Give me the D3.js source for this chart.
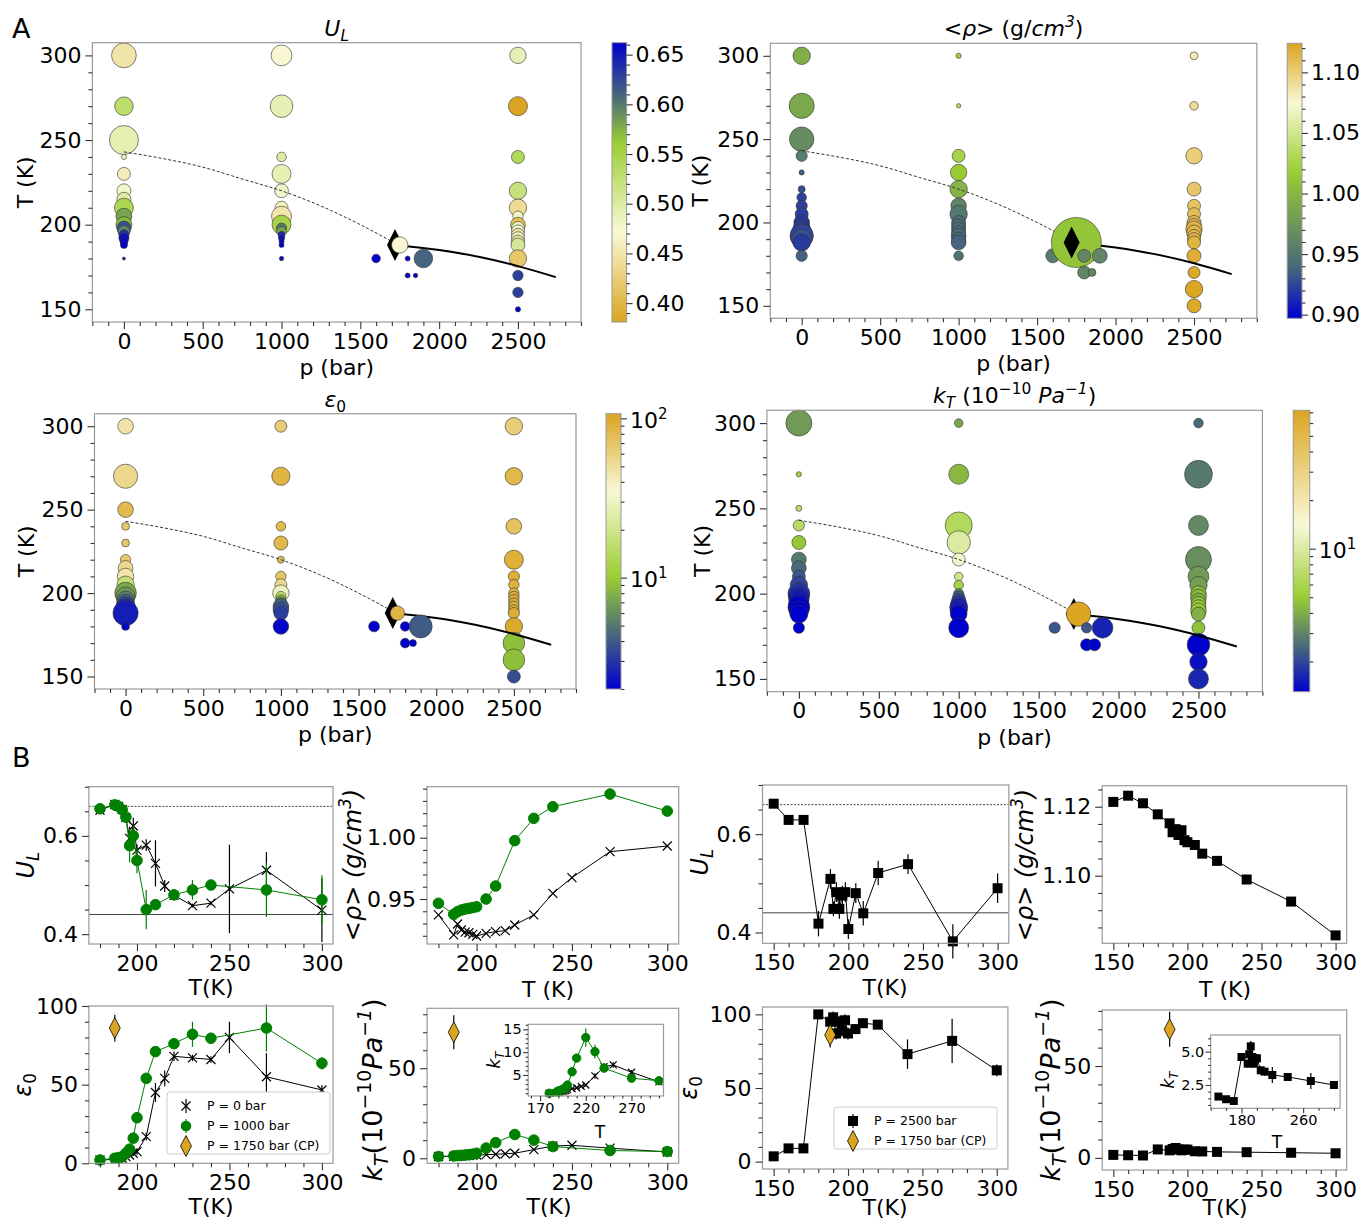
<!DOCTYPE html>
<html>
<head>
<meta charset="utf-8">
<script src="https://cdn.jsdelivr.net/npm/d3@7"></script>
<style>
body { margin: 0; background: #fff; }
text { font-family: "DejaVu Sans", sans-serif; }
</style>
</head>
<body>
<svg id="fig" width="1361" height="1221"></svg>
<script>
// temperatures of each isobar
const T0    = [180,188,190,192,194,196,198,200,205,210,215,220,230,240,250,270,300]
const T1000 = [180,188,190,192,194,196,198,200,205,210,220,230,240,270,300]
const T2500 = [150,160,170,180,188,190,192,194,196,198,200,205,210,220,240,270,300]

// U_L
const UL0      = [0.652,0.664,0.66,0.654,0.637,0.595,0.62,0.571,0.581,0.544,0.498,0.479,0.458,0.463,0.492,0.530,0.449]
const UL0err   = [0.004,0.005,0.005,0.006,0.01,0.024,0.017,0.012,0.012,0.047,0.012,0.01,0.004,0.004,0.09,0.037,0.065]
const UL1000   = [0.655,0.663,0.66,0.653,0.638,0.58,0.60,0.55,0.45,0.46,0.48,0.49,0.50,0.49,0.47]
const UL1000err= [0.005,0.005,0.006,0.006,0.01,0.034,0.02,0.026,0.04,0.01,0.01,0.02,0.005,0.055,0.05]
const UL2500   = [0.662,0.629,0.629,0.418,0.509,0.448,0.482,0.448,0.475,0.482,0.407,0.48,0.439,0.521,0.539,0.382,0.49]
const UL2500err= [0.005,0.004,0.004,0.026,0.02,0.015,0.02,0.02,0.02,0.02,0.02,0.02,0.025,0.025,0.02,0.035,0.03]
const UL_REF   = [0.66, 0.44]   // dotted, solid reference levels

// density
const RHO0    = [0.937,0.9207,0.9296,0.9247,0.923,0.9225,0.9212,0.9198,0.922,0.9234,0.9242,0.9288,0.937,0.9546,0.9674,0.9886,0.9932]
const RHO1000 = [0.9465,0.9375,0.9397,0.941,0.9418,0.9424,0.943,0.9437,0.95,0.9606,0.9976,1.0158,1.0253,1.0356,1.0217]
const RHO2500 = [1.1214,1.1232,1.121,1.1178,1.1152,1.1126,1.1135,1.1118,1.1132,1.1103,1.1097,1.1089,1.1064,1.1043,1.0989,1.0925,1.0827]

// dielectric constant
const EPS0       = [2.1,2.5,2.8,3.2,4.2,5.3,6.4,7.4,17,45,54,68,67,66,80,55,46.6]
const EPS0err    = [0.5,0.5,0.5,0.5,1,1,1.5,2,2.5,6,5,3,2,2,10,15,3]
const EPS1000    = [2.1,3.2,3.6,4.2,6.4,9,16,29,54,71,76,82,79.5,86,63.6]
const EPS1000err = [0.5,0.5,0.5,0.8,1,1.5,2,2.5,3,3,3,8,2.5,15,4]
const EPS2500    = [3.6,9,9,100,95,98,87,95,89,96,87,90,94,93,73,82,62]
const EPS2500err = [1,1,1,2,3,4,4,4,4,4,4,3,3,2,10,15,4]

// compressibility
const KT0       = [1.0,1.1,1.2,1.3,1.4,1.5,1.6,1.8,2.0,2.2,2.5,2.8,4.8,6.8,7.2,5.6,3.5]
const KT0err    = [0.1,0.1,0.1,0.1,0.1,0.1,0.1,0.15,0.2,0.2,0.2,0.3,0.6,0.8,0.6,0.5,0.4]
const KT1000    = [1.0,1.3,1.5,1.6,1.8,2.0,2.3,2.8,5.7,8.7,13.2,10.1,6.5,4.3,3.75]
const KT1000err = [0.1,0.1,0.1,0.1,0.15,0.2,0.2,0.3,0.5,0.8,2.0,1.5,0.8,0.5,0.4]
const KT2500    = [1.63,1.43,1.3,4.6,4.1,4.8,5.4,4.6,4.1,4.5,4.5,3.6,3.5,3.25,3.1,2.8,2.5]
const KT2500err = [0.1,0.1,0.1,0.2,0.3,0.3,0.4,0.5,0.3,0.3,0.3,0.3,0.3,0.6,0.3,0.6,0.2]

// critical point (1750 bar)
const CP_P = 1720, CP_T = 188
const CP_EPS = [86, 8.5]   // value, error
const CP_KT  = [70, 9.5]

// extra state points near the critical point
const PX = [1600,1750,1800,1800,1850,1900]
const TX = [180,188,180,170,170,180]
const UL_X  = [0.66,0.47,0.66,0.66,0.66,0.61]
const RHO_X = [0.955,1.012,0.962,0.962,0.962,0.962]
const EPS_X = [2,86,2,2,2,4]
const KT_X  = [2.2,70,2.2,1.3,1.3,1.6]

// relative uncertainties shown as bubble size in panel A
const SZ_UL_0    = [0.15,0.35,0.4,0.5,0.5,0.6,0.7,0.8,0.8,0.95,0.7,0.7,0.65,0.25,1.45,0.93,1.24]
const SZ_UL_1000 = [0.22,0.25,0.25,0.3,0.35,0.48,0.5,0.95,1.0,0.65,0.69,0.95,0.48,1.13,1.04]
const SZ_UL_2500 = [0.26,0.52,0.52,0.87,0.7,0.65,0.65,0.65,0.65,0.65,0.74,0.52,0.87,0.87,0.65,0.95,0.82]
const SZ_UL_X    = [0.43,0.82,0.25,0.25,0.22,0.93]
const SZ_RHO_0    = [0.56,0.87,1.0,1.17,1.0,0.87,0.78,0.78,0.65,0.56,0.48,0.35,0.26,0.56,1.22,1.26,0.87]
const SZ_RHO_1000 = [0.48,0.74,0.7,0.74,0.7,0.7,0.7,0.7,0.87,0.78,0.87,0.82,0.65,0.22,0.26]
const SZ_RHO_2500 = [0.7,0.87,0.6,0.7,0.65,0.65,0.65,0.74,0.82,0.74,0.7,0.65,0.65,0.7,0.82,0.43,0.39]
const SZ_RHO_X    = [0.7,2.5,0.65,0.65,0.39,0.74]
const SZ_EPS_0    = [0.39,1.26,1.04,0.95,0.87,0.87,0.95,1.08,0.87,0.82,0.74,0.52,0.39,0.39,0.78,1.21,0.78]
const SZ_EPS_1000 = [0.78,0.7,0.78,0.78,0.6,0.5,0.5,0.82,0.6,0.52,0.35,0.7,0.48,0.91,0.6]
const SZ_EPS_2500 = [0.65,1.08,1.08,0.87,0.56,0.52,0.52,0.52,0.52,0.52,0.52,0.52,0.56,0.95,0.78,0.87,0.87]
const SZ_EPS_X    = [0.54,0.72,0.48,0.48,0.35,1.15]
const SZ_KT_0    = [0.56,0.9,0.95,1.09,1.0,1.0,1.04,1.09,0.87,0.65,0.74,0.74,0.7,0.56,0.3,0.26,1.3]
const SZ_KT_1000 = [1.0,0.83,0.85,0.9,0.8,0.7,0.6,0.5,0.48,0.43,0.65,1.17,1.35,1.0,0.43]
const SZ_KT_2500 = [1.0,0.87,1.13,0.65,0.7,0.78,0.74,0.74,0.74,0.78,0.78,0.87,1.04,1.3,1.0,1.39,0.48]
const SZ_KT_X    = [0.56,1.22,0.52,0.6,0.6,1.04]

// Widom line (dashed) and coexistence line (solid)
const WIDOM_P = [0,250,500,750,1000,1250,1500,1720]
const WIDOM_T = [243,239,234,227,220,211,200,189]
const COEX_P  = [1720,2000,2250,2500,2740]
const COEX_T  = [188,185,181,175.5,169]

const svg = d3.select("#fig")
const defs = svg.append("defs")
const CMAP = ["#0000cd", "#4a6a7a", "#9acd32", "#f9f9d6", "#daa520"]
const FRAME = "#999"
const TICK = "#333"
let gid = 0

const colorUL  = d3.scaleLinear().domain([0.662,0.607,0.562,0.472,0.381]).range(CMAP).clamp(true)
const colorRho = d3.scaleLinear().domain([0.897,0.94,1.018,1.074,1.124]).range(CMAP).clamp(true)
const colorEps = d3.scaleLog().domain([2,4.5,10,35,107]).range(CMAP).clamp(true)
const colorKT  = d3.scaleLog().domain([1.3,2.5,5,14,72]).range(CMAP).clamp(true)

function rich(sel, parts, fs){
    let cur = 0
    parts.forEach(([s, kind]) => {
        const t = sel.append("tspan").text(s)
        let shift = 0, size = fs
        if (kind.includes("sub")) { shift = 0.22*fs; size = 0.7*fs }
        if (kind.includes("sup")) { shift = -0.42*fs; size = 0.7*fs }
        if (kind.includes("i")) t.attr("font-style", "italic")
        t.attr("dy", shift - cur).attr("font-size", size)
        cur = shift
    })
    return sel
}

function label(x, y, parts, fs, rot){
    const t = svg.append("text").attr("text-anchor", "middle").attr("font-size", fs)
        .attr("transform", rot ? `translate(${x},${y}) rotate(-90)` : `translate(${x},${y})`)
    return rich(t, parts, fs)
}

function minors(dom, step, majors){
    const lo = Math.ceil(d3.min(dom)/step - 1e-9), hi = Math.floor(d3.max(dom)/step + 1e-9)
    return d3.range(lo, hi+1).map(k => +(k*step).toFixed(6))
        .filter(v => !majors.some(m => Math.abs(m - v) < step*1e-3))
}

function styleAxis(a, fs){
    a.select(".domain").remove()
    a.selectAll("line").attr("stroke", TICK).attr("stroke-width", 1.1)
    a.selectAll("text").attr("font-size", fs).attr("fill", "#000").attr("font-family", "DejaVu Sans")
}

function drawAxes(g, x, y, o){
    const b = y.range()[0], l = x.range()[0]
    const fs = o.fs || 22, big = o.big || 7, small = o.small || 4
    styleAxis(g.append("g").attr("transform", `translate(0,${b})`)
        .call(d3.axisBottom(x).tickValues(o.xt).tickSize(big).tickPadding(o.pad || 4).tickFormat(o.xf || d3.format("d"))), fs)
    styleAxis(g.append("g").attr("transform", `translate(0,${b})`)
        .call(d3.axisBottom(x).tickValues(minors(x.domain(), o.xm, o.xt)).tickSize(small).tickFormat("")), fs)
    styleAxis(g.append("g").attr("transform", `translate(${l},0)`)
        .call(d3.axisLeft(y).tickValues(o.yt).tickSize(big).tickPadding(o.pad || 4).tickFormat(o.yf || d3.format("d"))), fs)
    styleAxis(g.append("g").attr("transform", `translate(${l},0)`)
        .call(d3.axisLeft(y).tickValues(minors(y.domain(), o.ym, o.yt)).tickSize(small).tickFormat("")), fs)
}

function frame(g, box){
    g.append("rect").attr("x", box[0]).attr("y", box[2])
        .attr("width", box[1]-box[0]).attr("height", box[3]-box[2])
        .attr("fill", "none").attr("stroke", FRAME).attr("stroke-width", 1.2)
}

function colorbar(cb, color, dom, log, ticks, minorStep, fmt){
    const id = "grad" + (gid++)
    const s = (log ? d3.scaleLog() : d3.scaleLinear()).domain(dom).range([cb[3], cb[2]])
    const grad = defs.append("linearGradient").attr("id", id)
        .attr("x1", 0).attr("y1", 1).attr("x2", 0).attr("y2", 0)
    d3.range(0, 1.0001, 1/80).forEach(t => {
        grad.append("stop").attr("offset", t).attr("stop-color", color(s.invert(cb[3] - t*(cb[3]-cb[2]))))
    })
    svg.append("rect").attr("x", cb[0]).attr("y", cb[2]).attr("width", cb[1]-cb[0]).attr("height", cb[3]-cb[2])
        .attr("fill", `url(#${id})`).attr("stroke", FRAME).attr("stroke-width", 1)
    let mins
    if (log) {
        mins = []
        for (let e = -1; e < 3; e++) for (let m = 2; m < 10; m++) {
            const v = m*Math.pow(10, e)
            if (v >= dom[0] && v <= dom[1]) mins.push(v)
        }
    } else mins = minors(dom, minorStep, ticks)
    const ax = svg.append("g").attr("transform", `translate(${cb[1]},0)`)
        .call(d3.axisRight(s).tickValues(ticks).tickSize(6).tickPadding(3).tickFormat(log ? () => "" : d3.format(fmt)))
    styleAxis(ax, 22)
    if (log) ax.selectAll(".tick text").each(function(d){
        const t = d3.select(this).attr("dy", "0.4em")
        t.append("tspan").text("10")
        t.append("tspan").attr("dy", -9).attr("font-size", 15).text(Math.round(Math.log10(d)))
    })
    styleAxis(svg.append("g").attr("transform", `translate(${cb[1]},0)`)
        .call(d3.axisRight(s).tickValues(mins).tickSize(3.5).tickFormat("")), 22)
}

function panelA(cfg){
    const box = cfg.box
    const g = svg.append("g")
    const x = d3.scaleLinear().domain([-200, 2900]).range([box[0], box[1]])
    const y = d3.scaleLinear().domain([142.5, 307.5]).range([box[3], box[2]])
    const r = d3.scaleLinear().domain([0, 1]).range([0, 10])

    const cols = cfg.cols.map(c => c.T.map((t, i) => ({p: c.p, T: t, v: c.v[i], s: c.s[i]}))
        .sort((a, b) => b.T - a.T)).flat()
    const extra = PX.map((p, i) => ({p, T: TX[i], v: cfg.xv[i], s: cfg.xs[i]}))

    const bubbles = (data) => g.append("g").selectAll("circle").data(data).join("circle")
        .attr("cx", d => x(d.p)).attr("cy", d => y(d.T)).attr("r", d => r(d.s))
        .attr("fill", d => cfg.color(d.v)).attr("stroke", "#333").attr("stroke-width", 0.6)

    bubbles(cols)
    const line = d3.line().x(d => x(d[0])).y(d => y(d[1])).curve(d3.curveMonotoneX)
    g.append("path").attr("d", line(WIDOM_P.map((p, i) => [p, WIDOM_T[i]])))
        .attr("fill", "none").attr("stroke", "#333").attr("stroke-width", 1).attr("stroke-dasharray", "3,2")
    g.append("path").attr("d", line(COEX_P.map((p, i) => [p, COEX_T[i]])))
        .attr("fill", "none").attr("stroke", "#000").attr("stroke-width", 2)
    const diamond = () => g.append("path").attr("d", "M0,-16L8,0L0,16L-8,0Z")
        .attr("transform", `translate(${x(CP_P)},${y(CP_T)})`).attr("fill", "#000")
    if (cfg.diamondTop) { bubbles(extra); diamond() } else { diamond(); bubbles(extra) }

    frame(g, box)
    drawAxes(g, x, y, {xt: [0,500,1000,1500,2000,2500], xm: 100, yt: [150,200,250,300], ym: 10, fs: 22})
    label((box[0]+box[1])/2, box[2]-7, cfg.title, 22)
    label((box[0]+box[1])/2, box[3]+53, [["p (bar)", ""]], 22)
    label(cfg.ylx, (box[2]+box[3])/2, [["T (K)", ""]], 22, true)
    colorbar(cfg.cb, cfg.color, cfg.cbDom, cfg.log, cfg.cbTicks, 0.01, ".2f")
}

panelA({box: [92.4, 581, 42.7, 322], cb: [612, 626.6, 42.7, 322], ylx: 33,
    title: [["U", "i"], ["L", "isub"]], color: colorUL, cbDom: [0.381, 0.662], log: false,
    cbTicks: [0.40,0.45,0.50,0.55,0.60,0.65],
    cols: [{p: 0, T: T0, v: UL0, s: SZ_UL_0}, {p: 1000, T: T1000, v: UL1000, s: SZ_UL_1000}, {p: 2500, T: T2500, v: UL2500, s: SZ_UL_2500}],
    xv: UL_X, xs: SZ_UL_X})

panelA({box: [770.3, 1256.8, 43.3, 318.3], cb: [1287.2, 1302, 43.3, 318.3], ylx: 708, diamondTop: true,
    title: [["<", ""], ["ρ", "i"], ["> (g/", ""], ["cm", "i"], ["3", "isup"], [")", ""]], color: colorRho,
    cbDom: [0.897, 1.124], log: false, cbTicks: [0.90,0.95,1.00,1.05,1.10],
    cols: [{p: 0, T: T0, v: RHO0, s: SZ_RHO_0}, {p: 1000, T: T1000, v: RHO1000, s: SZ_RHO_1000}, {p: 2500, T: T2500, v: RHO2500, s: SZ_RHO_2500}],
    xv: RHO_X, xs: SZ_RHO_X})

panelA({box: [94.5, 576, 413.7, 689], cb: [606, 621, 413.7, 689], ylx: 34,
    title: [["ε", "i"], ["0", "sub"]], color: colorEps, cbDom: [2, 107], log: true, cbTicks: [10, 100],
    cols: [{p: 0, T: T0, v: EPS0, s: SZ_EPS_0}, {p: 1000, T: T1000, v: EPS1000, s: SZ_EPS_1000}, {p: 2500, T: T2500, v: EPS2500, s: SZ_EPS_2500}],
    xv: EPS_X, xs: SZ_EPS_X})

panelA({box: [766.9, 1262.4, 410.3, 691.7], cb: [1293.2, 1309.8, 410.3, 691.7], ylx: 710,
    title: [["k", "i"], ["T", "isub"], [" (10", ""], ["−10", "sup"], [" Pa", "i"], ["−1", "isup"], [")", ""]],
    color: colorKT, cbDom: [1.3, 72], log: true, cbTicks: [10],
    cols: [{p: 0, T: T0, v: KT0, s: SZ_KT_0}, {p: 1000, T: T1000, v: KT1000, s: SZ_KT_1000}, {p: 2500, T: T2500, v: KT2500, s: SZ_KT_2500}],
    xv: KT_X, xs: SZ_KT_X})

// ---------- panel B ----------
function bPanel(o){
    const g = svg.append("g")
    const x = d3.scaleLinear().domain(o.xd).range([o.box[0], o.box[1]])
    const y = d3.scaleLinear().domain(o.yd).range([o.box[3], o.box[2]])
    if (o.inset) g.append("rect").attr("x", o.box[0]).attr("y", o.box[2])
        .attr("width", o.box[1]-o.box[0]).attr("height", o.box[3]-o.box[2]).attr("fill", "#fff")
    return {g, x, y, o}
}
function finish(P){
    const {g, x, y, o} = P
    frame(g, o.box)
    drawAxes(g, x, y, o)
}

const MARK = {
    x: s => `M${-s},${-s}L${s},${s}M${-s},${s}L${s},${-s}`,
    sq: s => `M${-s},${-s}H${s}V${s}H${-s}Z`,
    dia: s => `M0,${-s*1.9}L${s},0L0,${s*1.9}L${-s},0Z`
}

function series(P, T, V, E, kind, color, size){
    const {g, x, y} = P
    g.append("path").attr("d", d3.line().x((d, i) => x(T[i])).y(d => y(d))(V))
        .attr("fill", "none").attr("stroke", color).attr("stroke-width", 1)
    if (E) g.append("g").selectAll("line").data(V).join("line")
        .attr("x1", (d, i) => x(T[i])).attr("x2", (d, i) => x(T[i]))
        .attr("y1", (d, i) => y(d - E[i])).attr("y2", (d, i) => y(d + E[i]))
        .attr("stroke", color).attr("stroke-width", 1.2)
    const m = g.append("g").selectAll("path").data(V).join("path")
        .attr("transform", (d, i) => `translate(${x(T[i])},${y(d)})`)
    if (kind === "x") m.attr("d", MARK.x(size)).attr("stroke", color).attr("stroke-width", 1.2).attr("fill", "none")
    else if (kind === "o") m.attr("d", d3.symbol(d3.symbolCircle, Math.PI*size*size)()).attr("fill", color).attr("stroke", color)
    else m.attr("d", MARK.sq(size)).attr("fill", color)
}

function cp(P, v, err){
    const {g, x, y} = P
    g.append("line").attr("x1", x(CP_T)).attr("x2", x(CP_T)).attr("y1", y(v-err)).attr("y2", y(v+err))
        .attr("stroke", "#000").attr("stroke-width", 1.2)
    g.append("path").attr("d", MARK.dia(5.5)).attr("transform", `translate(${x(CP_T)},${y(v)})`)
        .attr("fill", "goldenrod").attr("stroke", "#000").attr("stroke-width", 0.8)
}

function refLines(P){
    const {g, x, y} = P
    g.append("line").attr("x1", x.range()[0]).attr("x2", x.range()[1]).attr("y1", y(UL_REF[0])).attr("y2", y(UL_REF[0]))
        .attr("stroke", "#444").attr("stroke-width", 1).attr("stroke-dasharray", "2,1.5")
    g.append("line").attr("x1", x.range()[0]).attr("x2", x.range()[1]).attr("y1", y(UL_REF[1])).attr("y2", y(UL_REF[1]))
        .attr("stroke", "#444").attr("stroke-width", 1)
}

const X180 = {xd: [174, 306], xt: [200, 250, 300], xm: 10}
const X150 = {xd: [142.5, 307.5], xt: [150, 200, 250, 300], xm: 10}

// B1
let P = bPanel({...X180, box: [88.9, 333, 786.7, 944], yd: [0.38, 0.70], yt: [0.4, 0.6], ym: 0.05, yf: d3.format(".1f")})
refLines(P)
series(P, T0, UL0, UL0err, "x", "#000", 4.5)
series(P, T1000, UL1000, UL1000err, "o", "green", 5.3)
finish(P)
label(34, 865, [["U", "i"], ["L", "isub"]], 24, true)
label(211, 995, [["T(K)", ""]], 22)

// B2
P = bPanel({...X180, box: [427, 678.7, 786.7, 944], yd: [0.9133, 1.0416], yt: [0.95, 1.00], ym: 0.01, yf: d3.format(".2f")})
series(P, T0, RHO0, null, "x", "#000", 4.5)
series(P, T1000, RHO1000, null, "o", "green", 5.3)
finish(P)
label(361, 865, [["<", "i"], ["ρ", "i"], ["> (", "i"], ["g/cm", "i"], ["3", "isup"], [")", "i"]], 24, true)
label(548, 997, [["T (K)", ""]], 22)

// B3
P = bPanel({...X150, box: [762.5, 1008.8, 785, 943.3], yd: [0.378, 0.70], yt: [0.4, 0.6], ym: 0.05, yf: d3.format(".1f")})
refLines(P)
series(P, T2500, UL2500, UL2500err, "sq", "#000", 5)
finish(P)
label(708, 862, [["U", "i"], ["L", "isub"]], 24, true)
label(885, 995, [["T(K)", ""]], 22)

// B4
P = bPanel({...X150, box: [1102.2, 1346.7, 785.7, 943.3], yd: [1.0804, 1.1261], yt: [1.10, 1.12], ym: 0.005, yf: d3.format(".2f")})
series(P, T2500, RHO2500, null, "sq", "#000", 5)
finish(P)
label(1033, 865, [["<", "i"], ["ρ", "i"], ["> (", "i"], ["g/cm", "i"], ["3", "isup"], [")", "i"]], 24, true)
label(1225, 997, [["T (K)", ""]], 22)

// B5
P = bPanel({...X180, box: [88.9, 333, 1006, 1163.3], yd: [0, 100], yt: [0, 50, 100], ym: 10})
series(P, T0, EPS0, EPS0err, "x", "#000", 4.5)
series(P, T1000, EPS1000, EPS1000err, "o", "green", 5.3)
cp(P, ...CP_EPS)
finish(P)
label(31, 1085, [["ε", "i"], ["0", "sub"]], 24, true)
label(211, 1214, [["T(K)", ""]], 22)

function legend(box, rows){
    const g = svg.append("g")
    g.append("rect").attr("x", box[0]).attr("y", box[1]).attr("width", box[2]).attr("height", box[3])
        .attr("rx", 3).attr("fill", "#fff").attr("stroke", "#ccc")
    rows.forEach((r, i) => {
        const cy = box[1] + 14 + i*20, mx = box[0] + 19
        g.append("line").attr("x1", mx).attr("x2", mx).attr("y1", cy-7).attr("y2", cy+7).attr("stroke", r.c).attr("stroke-width", 1.2)
        const m = g.append("path").attr("transform", `translate(${mx},${cy})`)
        if (r.k === "x") m.attr("d", MARK.x(4.5)).attr("stroke", r.c).attr("stroke-width", 1.2)
        else if (r.k === "o") m.attr("d", d3.symbol(d3.symbolCircle, Math.PI*28)()).attr("fill", r.c)
        else if (r.k === "sq") m.attr("d", MARK.sq(5)).attr("fill", r.c)
        else m.attr("d", MARK.dia(5.5)).attr("fill", "goldenrod").attr("stroke", "#000").attr("stroke-width", 0.8)
        g.append("text").attr("x", box[0]+40).attr("y", cy).attr("dy", "0.35em").attr("font-size", 12.5).text(r.t)
    })
}
legend([167, 1092, 163, 62], [{k: "x", c: "#000", t: "P = 0 bar"}, {k: "o", c: "green", t: "P = 1000 bar"}, {k: "d", c: "#000", t: "P = 1750 bar (CP)"}])

// B6
P = bPanel({...X180, box: [427.1, 678.7, 1008.3, 1163.3], yd: [-2.8, 83.3], yt: [0, 50], ym: 10})
series(P, T0, KT0, KT0err, "x", "#000", 4.5)
series(P, T1000, KT1000, KT1000err, "o", "green", 5.3)
cp(P, ...CP_KT)
finish(P)
label(382, 1090, [["k", "i"], ["T", "isub"], ["(10", ""], ["−10", "sup"], ["Pa", "i"], ["−1", "isup"], [")", ""]], 27, true)
label(549, 1214, [["T(K)", ""]], 22)

// B6 inset
P = bPanel({inset: true, box: [528.2, 663.5, 1024.3, 1096], xd: [157, 305], xt: [170, 220, 270], xm: 10,
    yd: [0.4, 16.1], yt: [5, 10, 15], ym: 1, fs: 14.5, big: 5, small: 2.5, pad: 1.5})
series(P, T0, KT0, KT0err, "x", "#000", 3.5)
series(P, T1000, KT1000, KT1000err, "o", "green", 4.2)
finish(P)
label(500, 1060, [["k", "i"], ["T", "isub"]], 17, true)
label(600, 1138, [["T", ""]], 17)

// B7
P = bPanel({...X150, box: [762.5, 1007.9, 1007, 1169], yd: [-5, 105], yt: [0, 50, 100], ym: 10})
series(P, T2500, EPS2500, EPS2500err, "sq", "#000", 5)
cp(P, ...CP_EPS)
finish(P)
label(697, 1088, [["ε", "i"], ["0", "sub"]], 24, true)
label(885, 1215, [["T(K)", ""]], 22)
legend([834, 1107, 163, 42], [{k: "sq", c: "#000", t: "P = 2500 bar"}, {k: "d", c: "#000", t: "P = 1750 bar (CP)"}])

// B8
P = bPanel({...X150, box: [1102.2, 1346.7, 1010, 1170], yd: [-6.6, 80.5], yt: [0, 50], ym: 10})
series(P, T2500, KT2500, KT2500err, "sq", "#000", 5)
cp(P, ...CP_KT)
finish(P)
label(1060, 1090, [["k", "i"], ["T", "isub"], ["(10", ""], ["−10", "sup"], ["Pa", "i"], ["−1", "isup"], [")", ""]], 27, true)
label(1225, 1215, [["T(K)", ""]], 22)

// B8 inset
P = bPanel({inset: true, box: [1210.7, 1340.1, 1035, 1108.3], xd: [140, 308], xt: [180, 260], xm: 20,
    yd: [0.75, 6.25], yt: [2.5, 5.0], ym: 0.5, yf: d3.format(".1f"), fs: 14.5, big: 5, small: 2.5, pad: 1.5})
series(P, T2500, KT2500, KT2500err, "sq", "#000", 4)
finish(P)
label(1174, 1080, [["k", "i"], ["T", "isub"]], 17, true)
label(1277, 1148, [["T", ""]], 17)

// panel letters
svg.append("text").attr("x", 12).attr("y", 38).attr("font-size", 27).text("A")
svg.append("text").attr("x", 12).attr("y", 767).attr("font-size", 27).text("B")
</script>
</body>
</html>
